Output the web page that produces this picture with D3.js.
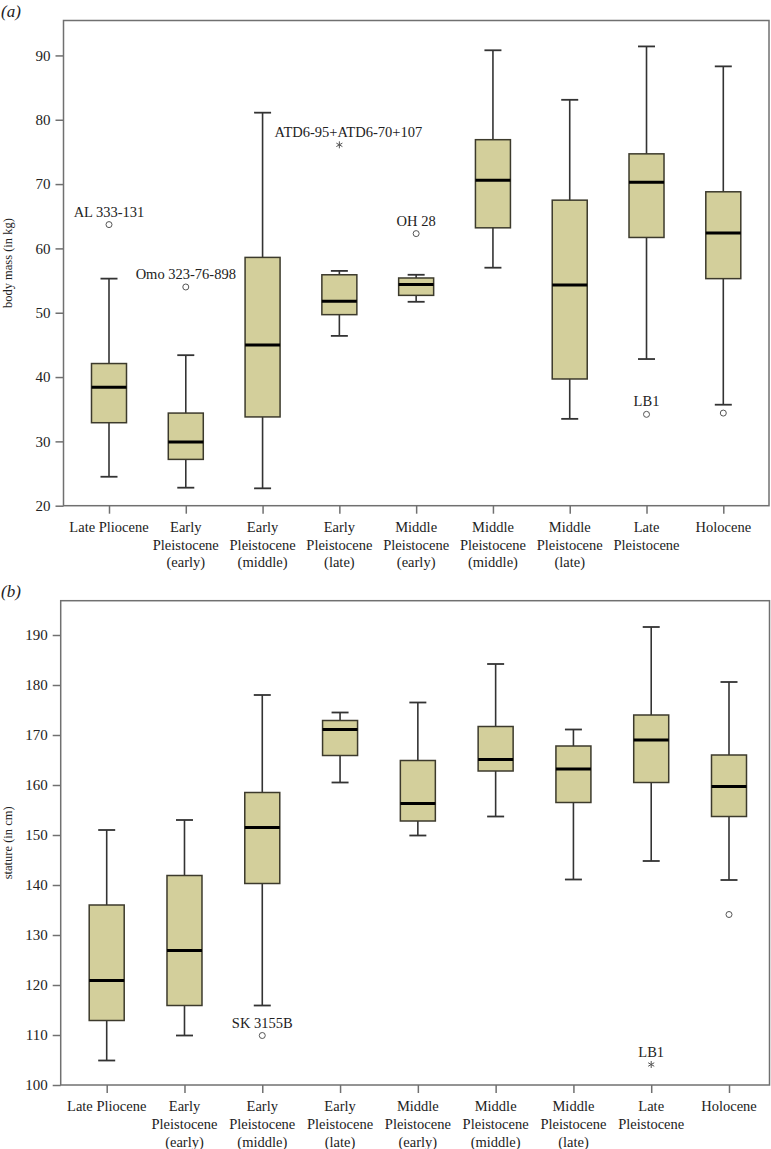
<!DOCTYPE html>
<html><head><meta charset="utf-8">
<script src="https://cdn.jsdelivr.net/npm/d3@7"></script>
<style>
html,body{margin:0;padding:0;background:#fff;}
svg{display:block;}
svg text{font-family:"Liberation Serif","Times New Roman","DejaVu Serif",serif !important;fill:#222;}
</style></head>
<body><svg id="chart" width="771" height="1149"></svg>
<script>
// ---------- data ----------
const categories = [
  "Late Pliocene",
  "Early\nPleistocene\n(early)",
  "Early\nPleistocene\n(middle)",
  "Early\nPleistocene\n(late)",
  "Middle\nPleistocene\n(early)",
  "Middle\nPleistocene\n(middle)",
  "Middle\nPleistocene\n(late)",
  "Late\nPleistocene",
  "Holocene"
];

// (a) body mass (kg)
const massLow    = [24.5, 22.8, 22.7, 46.4, 51.7, 57.0, 33.5, 42.8, 35.7];
const massQ1     = [32.9, 27.2, 33.8, 49.7, 52.7, 63.2, 39.7, 61.7, 55.3];
const massMedian = [38.4, 29.9, 45.0, 51.8, 54.4, 70.6, 54.3, 70.3, 62.4];
const massQ3     = [42.1, 34.4, 58.6, 55.9, 55.4, 76.9, 67.5, 74.7, 68.8];
const massHigh   = [55.3, 43.4, 81.1, 56.5, 55.9, 90.8, 83.1, 91.4, 88.3];
const massOutliers = [
  {cat: 0, value: 63.7, symbol: "circle", label: "AL 333-131"},
  {cat: 1, value: 54.0, symbol: "circle", label: "Omo 323-76-898"},
  {cat: 3, value: 76.1, symbol: "star",   label: "ATD6-95+ATD6-70+107"},
  {cat: 4, value: 62.3, symbol: "circle", label: "OH 28"},
  {cat: 7, value: 34.2, symbol: "circle", label: "LB1"},
  {cat: 8, value: 34.4, symbol: "circle", label: ""}
];
const massTicks = [20, 30, 40, 50, 60, 70, 80, 90];

// (b) stature (cm)
const statureLow    = [104.9, 109.9, 115.9, 160.5, 149.9, 153.7, 141.1, 144.8, 141.0];
const statureQ1     = [112.9, 115.9, 140.3, 165.9, 152.8, 162.8, 156.5, 160.5, 153.7];
const statureMedian = [120.9, 126.9, 151.5, 171.1, 156.3, 165.1, 163.2, 169.0, 159.7];
const statureQ3     = [136.0, 141.9, 158.5, 172.9, 164.9, 171.7, 167.8, 174.0, 166.0];
const statureHigh   = [151.0, 153.0, 178.0, 174.5, 176.5, 184.2, 171.1, 191.6, 180.6];
const statureOutliers = [
  {cat: 2, value: 109.9, symbol: "circle", label: "SK 3155B"},
  {cat: 7, value: 104.1, symbol: "star",   label: "LB1"},
  {cat: 8, value: 134.1, symbol: "circle", label: ""}
];
const statureTicks = [100, 110, 120, 130, 140, 150, 160, 170, 180, 190];

// ---------- drawing ----------
const FONT = '"Liberation Serif","Times New Roman",serif';
const svg = d3.select("#chart");
const boxFill = "#d3cf9b", boxStroke = "#3c3a2c", frameColor = "#707070", whiskerColor = "#333";

function drawPanel(o) {
  const g = svg.append("g").attr("font-family", FONT);
  const x = d3.scalePoint().domain(d3.range(categories.length)).range([o.x0, o.x1]);
  const y = d3.scaleLinear().domain(o.domain).range([o.bottom, o.top]);

  // panel label
  g.append("text").attr("x", 1).attr("y", o.top - 3.5).attr("font-family", FONT)
    .style("font-style", "italic").style("font-size", "17px").text(o.panel);

  // y axis title
  g.append("text")
    .attr("transform", `translate(${o.titleX},${(o.top + o.bottom) / 2}) rotate(-90)`)
    .attr("font-family", FONT)
    .attr("text-anchor", "middle").style("font-size", "12.5px").text(o.title);

  // y axis
  const yAxis = g.append("g").attr("transform", `translate(${o.left},0)`)
    .call(d3.axisLeft(y).tickValues(o.ticks).tickSize(8).tickPadding(5).tickFormat(d3.format("d")));
  yAxis.attr("font-family", FONT).attr("font-size", 15);
  yAxis.select(".domain").remove();
  yAxis.selectAll("line").attr("stroke", frameColor).attr("stroke-width", 1.5);
  yAxis.selectAll("text").attr("font-family", FONT).style("font-size", "15px").attr("fill", "#222");

  // x axis ticks
  const xAxis = g.append("g").attr("transform", `translate(0,${o.bottom})`)
    .call(d3.axisBottom(x).tickSize(8).tickFormat(""));
  xAxis.select(".domain").remove();
  xAxis.selectAll("line").attr("stroke", frameColor).attr("stroke-width", 1.5);

  // category labels
  categories.forEach((c, i) => {
    const t = g.append("text").attr("text-anchor", "middle").attr("font-family", FONT).style("font-size", "14.5px");
    c.split("\n").forEach((line, k) => {
      t.append("tspan").attr("x", x(i)).attr("y", o.bottom + 26 + k * 17.8).text(line);
    });
  });

  // frame
  g.append("rect").attr("x", o.left).attr("y", o.top)
    .attr("width", o.right - o.left).attr("height", o.bottom - o.top)
    .attr("fill", "none").attr("stroke", frameColor).attr("stroke-width", 1.5);

  const bw = 35, cw = 17;
  const idx = d3.range(categories.length);
  const boxes = g.append("g").selectAll("g").data(idx).join("g");
  // whiskers
  boxes.append("line").attr("x1", i => x(i)).attr("x2", i => x(i))
    .attr("y1", i => y(o.low[i])).attr("y2", i => y(o.high[i]))
    .attr("stroke", whiskerColor).attr("stroke-width", 1.6);
  boxes.append("line").attr("x1", i => x(i) - cw / 2).attr("x2", i => x(i) + cw / 2)
    .attr("y1", i => y(o.high[i])).attr("y2", i => y(o.high[i]))
    .attr("stroke", whiskerColor).attr("stroke-width", 1.8);
  boxes.append("line").attr("x1", i => x(i) - cw / 2).attr("x2", i => x(i) + cw / 2)
    .attr("y1", i => y(o.low[i])).attr("y2", i => y(o.low[i]))
    .attr("stroke", whiskerColor).attr("stroke-width", 1.8);
  // boxes
  boxes.append("rect").attr("x", i => x(i) - bw / 2).attr("width", bw)
    .attr("y", i => y(o.q3[i])).attr("height", i => y(o.q1[i]) - y(o.q3[i]))
    .attr("fill", boxFill).attr("stroke", boxStroke).attr("stroke-width", 1.5);
  // median
  boxes.append("line").attr("x1", i => x(i) - bw / 2).attr("x2", i => x(i) + bw / 2)
    .attr("y1", i => y(o.median[i])).attr("y2", i => y(o.median[i]))
    .attr("stroke", "#000").attr("stroke-width", 3);

  // outliers
  const outs = g.append("g").selectAll("g").data(o.outliers).join("g")
    .attr("transform", d => `translate(${x(d.cat)},${y(d.value)})`);
  outs.filter(d => d.symbol === "circle").append("circle").attr("r", 3)
    .attr("fill", "#fff").attr("stroke", "#555").attr("stroke-width", 1);
  const starType = d3.symbolAsterisk || d3.symbolStar;
  outs.filter(d => d.symbol === "star").append("path")
    .attr("d", d3.symbol().type(starType).size(34))
    .attr("fill", "none").attr("stroke", "#555").attr("stroke-width", 1);
  outs.append("text").attr("text-anchor", "middle").attr("font-family", FONT)
    .attr("x", d => d.dx || 0).attr("y", -8)
    .style("font-size", "14.5px").text(d => d.label);
}

massOutliers[2].dx = 9;
drawPanel({
  panel: "(a)", title: "body mass (in kg)", titleX: 12,
  left: 63.5, right: 769, top: 20.5, bottom: 505.7,
  x0: 109, x1: 723.3, domain: [20, 95.43], ticks: massTicks,
  low: massLow, q1: massQ1, median: massMedian, q3: massQ3, high: massHigh,
  outliers: massOutliers
});
drawPanel({
  panel: "(b)", title: "stature (in cm)", titleX: 12,
  left: 60.7, right: 769.5, top: 600.7, bottom: 1085,
  x0: 106.7, x1: 729, domain: [100, 196.86], ticks: statureTicks,
  low: statureLow, q1: statureQ1, median: statureMedian, q3: statureQ3, high: statureHigh,
  outliers: statureOutliers
});
</script></body></html>
